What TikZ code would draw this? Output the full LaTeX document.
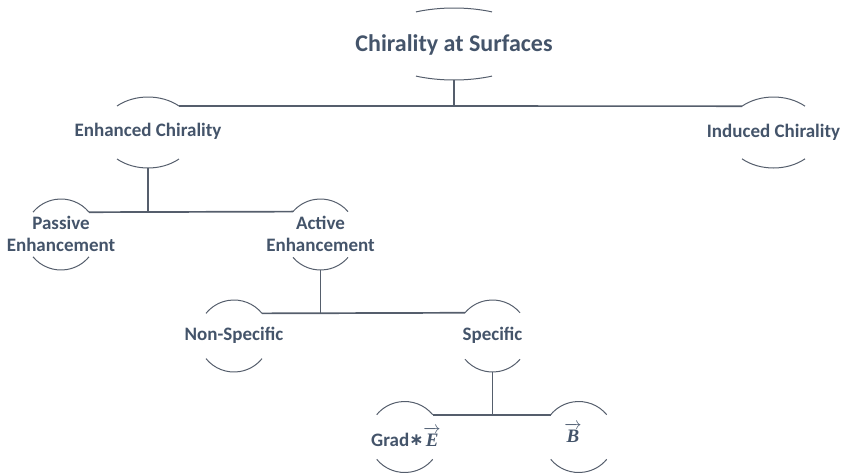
\documentclass[tikz,border=0pt]{standalone}
\usepackage{amsmath}
\usepackage{fontspec}
\setmainfont{Carlito}
\newfontfamily\serifbi{Liberation Serif}
\newfontfamily\symfont{DejaVu Sans}
\usetikzlibrary{calc}
\definecolor{txt}{HTML}{44546A}
\definecolor{ln}{HTML}{555E6C}
\tikzset{
  lbl/.style={inner sep=0pt, align=center, text=txt, font=\bfseries\fontsize{19}{22}\selectfont},
  rootlbl/.style={lbl, font=\bfseries\fontsize{24}{28}\selectfont},
  arcline/.style={draw=ln, line width=1pt},
  conn/.style={draw=ln, line width=1.7pt}
}
\newcommand\vecsym[1]{$\overrightarrow{\text{\serifbi\bfseries\itshape #1}}$}
% name, x, y, a, b, h
\newcommand\ovalarcs[6]{%
  \coordinate (#1-c) at (#2,-#3);
  \pgfmathsetmacro\tz{acos(#6/#4)}
  \pgfmathsetmacro\ty{#5*sin(\tz)}
  \coordinate (#1-tr) at ($(#1-c)+(#6,\ty)$);
  \coordinate (#1-tl) at ($(#1-c)+(-#6,\ty)$);
  \coordinate (#1-bl) at ($(#1-c)+(-#6,-\ty)$);
  \coordinate (#1-bot) at ($(#1-c)+(0,-#5)$);
  \draw[arcline] (#1-tr) arc[start angle=\tz, end angle=180-\tz, x radius=#4, y radius=#5];
  \draw[arcline] (#1-bl) arc[start angle=180+\tz, end angle=360-\tz, x radius=#4, y radius=#5];
}
\begin{document}
\begin{tikzpicture}[x=1pt,y=1pt]
\useasboundingbox (0,0) rectangle (845,-474);
\ovalarcs{root}{454}{44}{84}{36}{38}
\ovalarcs{enh}{148}{132.5}{46.6}{35.5}{31}
\ovalarcs{ind}{773.5}{132.5}{47}{35.5}{31.5}
\ovalarcs{pas}{61}{234.5}{36}{35.5}{28}
\ovalarcs{act}{320.5}{234.5}{36}{35.5}{27.5}
\ovalarcs{non}{234}{336}{36}{36}{28}
\ovalarcs{spe}{492.5}{336}{36}{36}{27.5}
\ovalarcs{grd}{404.7}{437}{36}{35.5}{28}
\ovalarcs{bv}{578.7}{437}{36}{35.5}{28}

\node[rootlbl] (root) at (454,-45) {Chirality at Surfaces};
\node[lbl] (enh) at (148,-131) {Enhanced Chirality};
\node[lbl] (ind) at (773.5,-132) {Induced Chirality};
\node[lbl] (pas) at (61,-234) {Passive\\Enhancement};
\node[lbl] (act) at (320.5,-234) {Active\\Enhancement};
\node[lbl] (non) at (234,-335) {Non-Specific};
\node[lbl] (spe) at (492.5,-335) {Specific};
\node[lbl] (grd) at (406,-437) {Grad{\symfont\bfseries\fontsize{17}{17}\selectfont\raisebox{1pt}{∗}}\vecsym{E}};
\node[lbl] (bv) at (573,-433) {\vecsym{B}};

\draw[conn] (enh-tr) -- (ind-tl);
\draw[conn] (root-bot) -- (root-bot |- enh-tr);
\draw[conn] (pas-tr) -- (act-tl);
\draw[conn] (enh-bot) -- (enh-bot |- pas-tr);
\draw[conn] (non-tr) -- (spe-tl);
\draw[conn] (act-bot) -- (act-bot |- non-tr);
\draw[conn] (grd-tr) -- (bv-tl);
\draw[conn] (spe-bot) -- (spe-bot |- grd-tr);
\end{tikzpicture}
\end{document}
